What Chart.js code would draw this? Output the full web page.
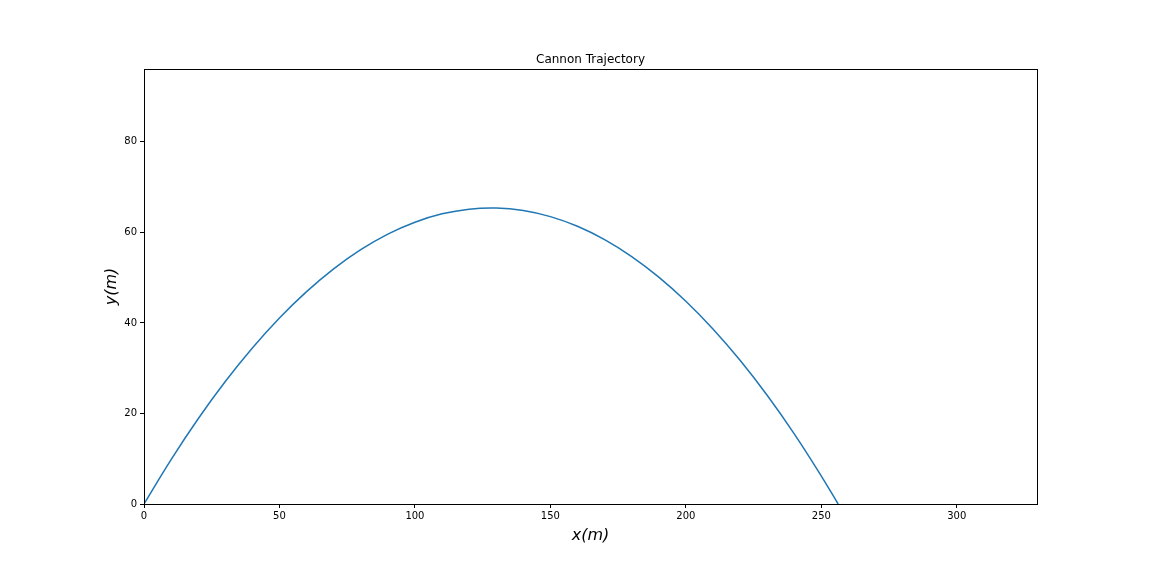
<!DOCTYPE html>
<html>
<head>
<meta charset="utf-8">
<script src="https://cdn.jsdelivr.net/npm/chart.js@4/dist/chart.umd.min.js"></script>
<style>
  html, body { margin: 0; padding: 0; background: #fff; }
  #wrap { width: 1152px; height: 576px; }
</style>
</head>
<body>
<div id="wrap"><canvas id="chart"></canvas></div>
<script>
// horizontal distance (m)
const xValues = [0, 10, 20, 30, 40, 50, 60, 70, 80, 90, 100, 110, 120, 130,
  140, 150, 160, 170, 180, 190, 200, 210, 220, 230, 240, 250, 256.2];
// height (m) at each distance
const yValues = [0, 9.81, 18.83, 27.05, 34.47, 41.09, 46.92, 51.95, 56.18, 59.62, 62.25, 64.10, 65.14, 65.39,
  64.84, 63.49, 61.35, 58.40, 54.67, 50.13, 44.80, 38.67, 31.74, 24.02, 15.50, 6.18, 0];
const xTicks = [0, 50, 100, 150, 200, 250, 300];
const yTicks = [0, 20, 40, 60, 80];

const points = xValues.map((x, i) => ({ x: x, y: yValues[i] }));

// frame, title and axis labels
const decor = {
  id: 'decor',
  afterDraw(chart) {
    const { ctx, chartArea: a } = chart;
    ctx.save();
    ctx.strokeStyle = '#000';
    ctx.lineWidth = 1;
    ctx.strokeRect(a.left + 0.5, a.top + 0.5, a.right - a.left, a.bottom - a.top);
    ctx.fillStyle = '#000';
    ctx.textAlign = 'center';
    ctx.textBaseline = 'alphabetic';
    ctx.font = '12px "DejaVu Sans"';
    ctx.fillText('Cannon Trajectory', (a.left + a.right) / 2, a.top - 6);
    ctx.font = 'italic 16px "DejaVu Sans"';
    ctx.fillText('x(m)', (a.left + a.right) / 2, 540);
    ctx.translate(116, (a.top + a.bottom) / 2);
    ctx.rotate(-Math.PI / 2);
    ctx.fillText('y(m)', 0, 0);
    ctx.restore();
  }
};

new Chart(document.getElementById('chart'), {
  type: 'scatter',
  data: {
    datasets: [{
      data: points,
      showLine: true,
      borderColor: '#1f77b4',
      borderWidth: 1.5,
      pointRadius: 0,
      tension: 0.4
    }]
  },
  options: {
    responsive: true,
    maintainAspectRatio: false,
    animation: false,
    layout: { padding: { left: 0, right: 115, top: 69, bottom: 0 } },
    plugins: { legend: { display: false }, tooltip: { enabled: false } },
    scales: {
      x: {
        type: 'linear',
        min: 0,
        max: 329.6,
        afterBuildTicks: (s) => { s.ticks = xTicks.map(v => ({ value: v })); },
        afterFit: (s) => { s.height = 72; },
        grid: { drawOnChartArea: false, drawTicks: true, tickLength: 4, color: '#000' },
        border: { display: true, color: '#000' },
        ticks: { color: '#000', font: { family: 'DejaVu Sans', size: 10 }, padding: 2, maxRotation: 0 }
      },
      y: {
        type: 'linear',
        min: 0,
        max: 96.1,
        afterBuildTicks: (s) => { s.ticks = yTicks.map(v => ({ value: v })); },
        afterFit: (s) => { s.width = 144; },
        grid: { drawOnChartArea: false, drawTicks: true, tickLength: 4, color: '#000' },
        border: { display: true, color: '#000' },
        ticks: { color: '#000', font: { family: 'DejaVu Sans', size: 10 }, padding: 3 }
      }
    }
  },
  plugins: [decor]
});
</script>
</body>
</html>
